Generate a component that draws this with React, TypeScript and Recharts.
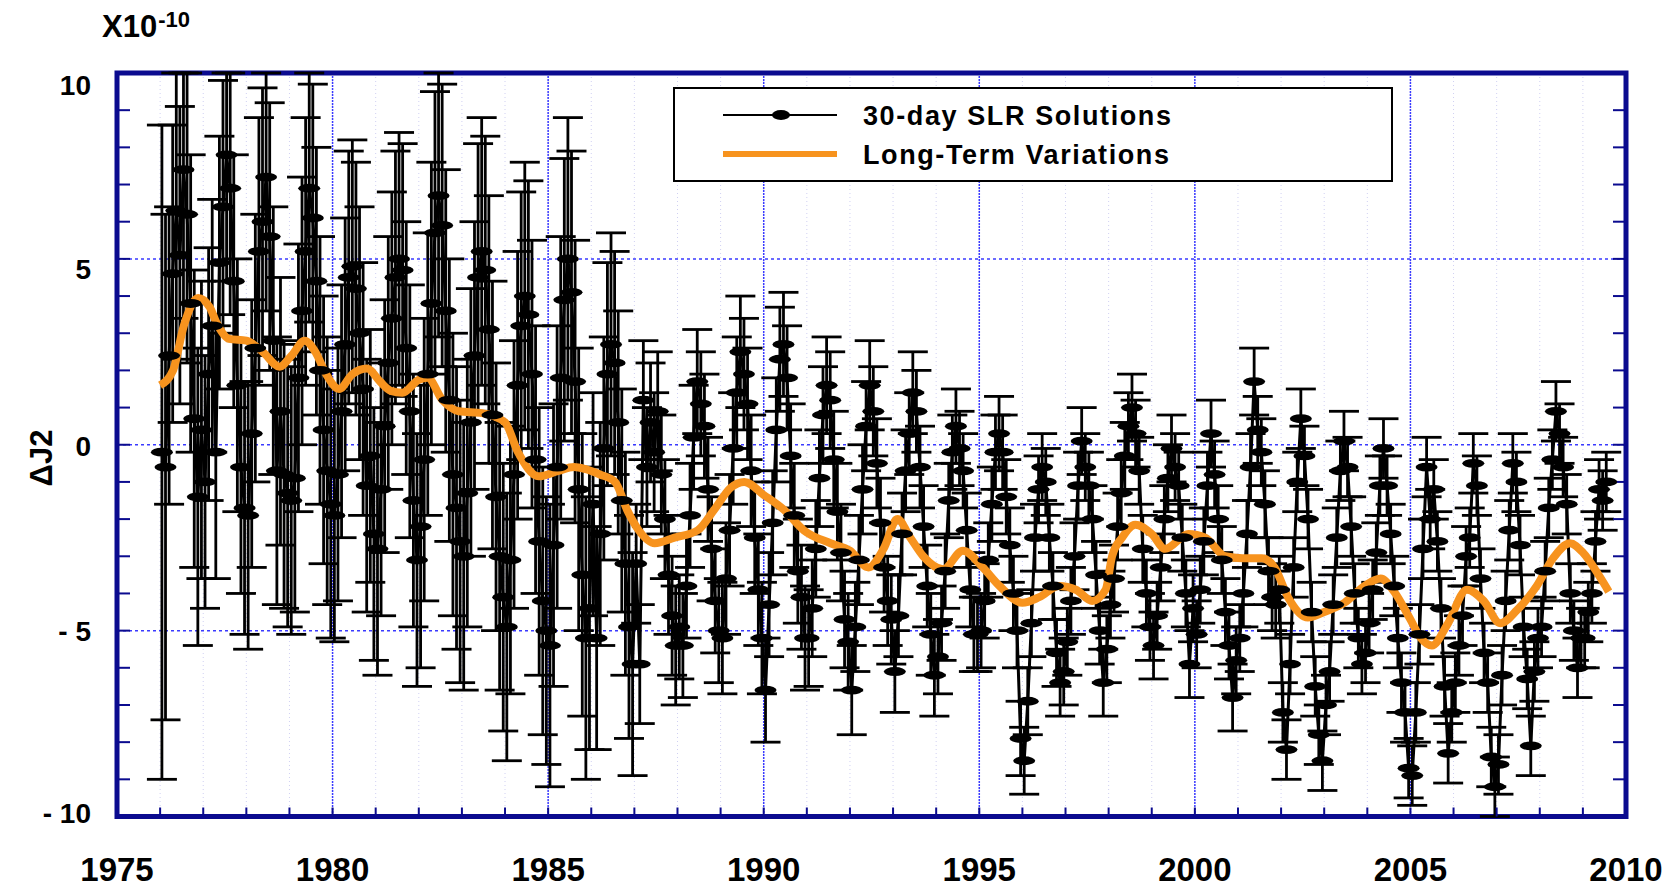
import React from 'react';
import { ComposedChart, Line, XAxis, YAxis, CartesianGrid, ErrorBar, ReferenceArea, Legend } from 'recharts';

const FONT = '"Liberation Sans", Arial, Helvetica, sans-serif';
const NAVY = '#0b0b8f';
const ORANGE = '#f7931e';

// 30-day SLR solutions, one value per month starting Jan 1976 (x1e-10)
const slr1976to1980 = [
  -0.2, -0.6, 2.4, 4.6, 6.3, 5.1, 7.4, 6.2, 3.8, 0.7, -1.4, 0.4,
  -1.0, 1.9, 3.2, -0.2, 4.9, 6.4, 7.8, 6.9, 4.4, 1.6, -0.6, -1.7,
  -1.9, 0.3, 2.6, 5.2, 6.0, 7.2, 5.6, 2.8, -0.7, 0.9, -0.8, -1.3,
  -1.5, -0.9, 1.8, 3.6, 5.2, 6.9, 6.1, 4.4, 2.0, 0.4, -0.7, -1.6,
  -1.9, -0.8, 0.9, 2.7, 4.5, 4.8, 4.2, 3.0, 1.5, -1.1, -0.3, -2.4,
];
const slr1981to1985 = [
  -2.8, -1.2, 0.5, 2.2, 3.4, 4.5, 5.0, 4.7, 2.6, 0.9, -1.5, -3.1,
  -2.2, -0.4, 1.9, 3.8, 5.7, 6.7, 5.9, 3.6, 1.2, -0.8, -1.7, -2.6,
  -3.0, -1.3, 0.6, 2.4, 4.5, 5.2, 4.7, 3.1, 0.8, -1.4, -3.0, -4.1,
  -4.9, -3.1, -0.8, 1.6, 3.2, 4.0, 3.5, 1.9, -0.4, -2.6, -4.2, -5.0,
  -5.4, -2.7, -0.6, 1.8, 3.9, 5.0, 4.1, 1.7, -1.2, -3.5, -5.2, -4.4,
];
const slr1986to1990 = [
  -1.6, -5.2, -2.4, -0.1, 1.9, 2.7, 2.2, 0.6, -1.5, -3.2, -4.9, -5.9,
  -3.2, -5.9, 1.2, -0.6, 0.6, -0.2, 0.9, -0.8, -2.0, -3.5, -4.6, -5.4,
  -4.9, -5.4, -3.8, -1.9, 0.2, 1.7, 1.1, 0.5, -1.2, -2.8, -4.2, -5.0,
  -5.2, -3.6, -2.3, -0.1, 1.4, 2.5, 1.9, 1.1, -0.7, -2.5, -3.9, -5.2,
  -6.6, -4.3, -2.1, 0.4, 2.3, 2.7, 1.8, -0.3, -1.9, -3.4, -4.1, -5.2,
];
const slr1991to1995 = [
  -5.2, -4.4, -2.8, -0.9, 0.8, 1.6, 1.2, -0.4, -1.8, -2.9, -4.7, -5.3,
  -6.6, -4.9, -3.1, -1.2, 0.5, 1.6, 0.9, -0.5, -2.1, -3.3, -4.2, -4.7,
  -6.1, -4.6, -2.4, -0.7, 0.3, 1.4, 0.9, -0.6, -2.2, -3.8, -5.1, -6.2,
  -5.7, -4.8, -3.4, -1.5, -0.2, 0.5, -0.1, -0.7, -2.3, -3.9, -5.1, -5.1,
  -5.0, -4.2, -3.1, -1.6, -0.2, 0.3, -0.2, -1.4, -2.7, -4.0, -5.0, -7.9,
];
const slr1996to2000 = [
  -8.5, -6.9, -4.8, -2.5, -1.2, -0.6, -1.0, -2.5, -3.8, -5.6, -6.4, -6.1,
  -5.3, -4.2, -3.0, -1.1, 0.1, -0.6, -1.1, -2.0, -3.5, -5.0, -6.4, -5.5,
  -4.3, -3.6, -2.2, -1.3, -0.3, 0.5, 1.0, 0.3, -0.7, -2.8, -4.0, -4.9,
  -5.4, -4.6, -3.3, -2.0, -0.9, -0.1, -0.6, -1.1, -2.5, -4.0, -5.9, -4.4,
  -5.1, -3.9, -2.6, -1.1, 0.3, -0.8, -2.0, -3.1, -4.5, -5.4, -6.8, -5.8,
];
const slr2001to2005 = [
  -5.2, -4.0, -2.4, -0.6, 1.7, 0.4, -0.2, -1.6, -3.4, -4.1, -4.3, -3.9,
  -7.2, -8.2, -5.9, -3.3, -1.0, 0.7, -0.3, -2.0, -4.5, -6.5, -7.8, -8.5,
  -7.0, -6.1, -4.3, -2.5, -0.7, 0.1, -0.6, -2.2, -4.0, -5.2, -5.9, -5.6,
  -4.8, -3.9, -2.9, -1.1, -0.1, -1.1, -2.4, -3.8, -5.2, -6.4, -7.2, -8.7,
  -8.9, -7.2, -5.1, -2.8, -0.6, -2.0, -1.2, -2.6, -4.4, -6.5, -8.3, -7.2,
];
const slr2006to2009 = [
  -6.4, -5.4, -4.6, -3.0, -2.5, -0.5, -1.1, -3.6, -5.6, -6.4, -8.4, -9.2,
  -8.6, -6.2, -4.2, -2.3, -0.5, -1.0, -2.7, -4.9, -6.3, -8.1, -6.1, -5.2,
  -4.9, -3.4, -1.7, -0.4, 0.9, 0.3, -0.6, -1.6, -4.0, -5.0, -6.0, -5.2,
  -5.2, -4.5, -4.0, -2.6, -1.2, -1.5, -1.0,
];

// error half-width per year 1976..2009, first months of 1976 are wider
const slrErrorByYear = [
  4.0, 3.4, 3.6, 3.6, 3.4, 3.4, 3.8, 3.6, 3.6, 3.8, 3.0, 1.6, 1.4, 1.5, 1.4, 1.3, 1.2,
  1.1, 1.0, 1.0, 0.9, 0.9, 0.9, 0.9, 0.9, 0.9, 0.8, 0.8, 0.8, 0.8, 0.8, 0.8, 0.8, 0.8,
];
const slrErrorStart = [8.8, 6.8];

// long-term variations
const trendYears = [
  1976.0, 1976.3, 1976.55, 1976.88, 1977.15, 1977.3, 1977.6, 1978.0, 1978.38, 1978.77,
  1979.05, 1979.35, 1979.6, 1979.85, 1980.15, 1980.46, 1980.8, 1981.1, 1981.35, 1981.62,
  1982.0, 1982.2, 1982.55, 1982.93, 1983.47, 1984.0, 1984.3, 1984.78, 1985.24, 1985.6,
  1985.85, 1986.2, 1986.55, 1986.85, 1987.1, 1987.47, 1987.93, 1988.47, 1988.85, 1989.24,
  1989.55, 1990.0, 1990.47, 1990.93, 1991.55, 1992.0, 1992.43, 1992.78, 1993.1, 1993.4,
  1993.7, 1994.16, 1994.62, 1995.08, 1995.47, 1996.0, 1996.39, 1996.85, 1997.24, 1997.62,
  1997.93, 1998.08, 1998.31, 1998.62, 1999.0, 1999.31, 1999.85, 2000.24, 2000.7, 2001.1,
  2001.55, 2001.85, 2002.16, 2002.62, 2003.0, 2003.47, 2003.93, 2004.31, 2004.62, 2005.0,
  2005.24, 2005.5, 2005.85, 2006.31, 2006.7, 2007.08, 2007.47, 2007.93, 2008.31, 2008.7,
  2009.0, 2009.39, 2009.6,
];
const trendValues = [
  1.6, 2.0, 3.2, 3.95, 3.7, 3.3, 2.85, 2.8, 2.5, 2.1,
  2.4, 2.8, 2.5, 1.9, 1.5, 1.9, 2.05, 1.7, 1.45, 1.4,
  1.75, 1.8, 1.2, 0.9, 0.85, 0.6, -0.2, -0.85, -0.7, -0.6,
  -0.65, -0.8, -1.0, -1.8, -2.3, -2.65, -2.5, -2.3, -1.75, -1.15,
  -1.0, -1.35, -1.75, -2.3, -2.65, -2.85, -3.3, -2.8, -2.0, -2.5,
  -3.0, -3.35, -2.85, -3.3, -3.8, -4.25, -4.1, -3.8, -3.9, -4.2,
  -3.9, -3.0, -2.5, -2.15, -2.4, -2.8, -2.4, -2.5, -3.0, -3.05,
  -3.05, -3.3, -4.1, -4.65, -4.5, -4.25, -3.8, -3.6, -3.95, -4.7,
  -5.2, -5.4, -4.85, -3.9, -4.2, -4.8, -4.45, -3.8, -3.05, -2.65,
  -2.9, -3.55, -3.95,
];

const yearTicks = Array.from({ length: 36 }, (_, i) => 1975 + i);
const valueTicks = Array.from({ length: 21 }, (_, i) => -10 + i);
const majorYears = [1980, 1985, 1990, 1995, 2000, 2005];
const majorValues = [-5, 0, 5];
const yLabels: Record<number, string> = { 10: '10', 5: '5', 0: '0', '-5': '- 5', '-10': '- 10' };

const Y_MIN = -10;
const Y_MAX = 10;

const slrValues = [
  ...slr1976to1980, ...slr1981to1985, ...slr1986to1990,
  ...slr1991to1995, ...slr1996to2000, ...slr2001to2005, ...slr2006to2009,
];
const slrData = slrValues.map((v, i) => {
  const e = i < slrErrorStart.length ? slrErrorStart[i] : slrErrorByYear[Math.floor(i / 12)];
  // error bars are cut at the frame like in the print
  return { t: 1976 + (i + 0.5) / 12, v, err: [Math.min(e, v - Y_MIN), Math.min(e, Y_MAX - v)] };
});
const trendData = trendYears.map((t, i) => ({ t, v: trendValues[i] }));

const XTick = (props: any) => {
  const { x, y, payload } = props;
  if (payload.value % 5 !== 0) return <g />;
  return (
    <text x={x} y={y} dy="0.36em" textAnchor="middle" fontFamily={FONT} fontWeight={700} fontSize={33} fill="#000">
      {payload.value}
    </text>
  );
};

// the printed labels sit a little off their ticks near the top
const yLabelShift: Record<number, number> = { 10: 12, 5: 10, 0: 1, '-5': 0, '-10': -4 };

const YTick = (props: any) => {
  const { x, y, payload } = props;
  const label = yLabels[payload.value];
  if (label === undefined) return <g />;
  return (
    <text x={x} y={y + yLabelShift[payload.value]} dy="0.36em" textAnchor="end" fontFamily={FONT} fontWeight={700} fontSize={28} fill="#000">
      {label}
    </text>
  );
};

const EllipseDot = (props: any) => {
  const { cx, cy, index } = props;
  if (cx == null || cy == null) return <g key={index} />;
  return <ellipse key={index} cx={cx} cy={cy} rx={11} ry={4.4} fill="#000" />;
};

const LegendBox = () => (
  <div style={{ width: 720, height: 95, boxSizing: 'border-box', border: '2px solid #000', background: '#fff' }}>
    <svg width={716} height={91} style={{ display: 'block' }}>
      <line x1={48} y1={26} x2={162} y2={26} stroke="#000" strokeWidth={2} />
      <ellipse cx={106} cy={26} rx={9} ry={5} fill="#000" />
      <line x1={48} y1={65} x2={162} y2={65} stroke={ORANGE} strokeWidth={6} />
      <text x={188} y={26} dy="0.36em" fontFamily={FONT} fontWeight={700} fontSize={27} letterSpacing={1.6} fill="#000">
        30-day SLR Solutions
      </text>
      <text x={188} y={65} dy="0.36em" fontFamily={FONT} fontWeight={700} fontSize={27} letterSpacing={1.6} fill="#000">
        Long-Term Variations
      </text>
    </svg>
  </div>
);

export default function App() {
  return (
    <div style={{ position: 'absolute', left: 0, top: 0, width: 1678, height: 893, background: '#fff' }}>
      <ComposedChart width={1678} height={893} margin={{ top: 72, right: 51, bottom: 16.5, left: 0 }}>
        <CartesianGrid horizontal={false} stroke="#d0d0f2" strokeDasharray="1 3" />
        <CartesianGrid horizontal={false} verticalValues={majorYears} stroke="#3a3aff" strokeWidth={1.5} strokeDasharray="2 1" />
        <CartesianGrid vertical={false} horizontalValues={majorValues} stroke="#3a3aff" strokeWidth={1.5} strokeDasharray="3 3" />
        <XAxis
          dataKey="t"
          type="number"
          domain={[1975, 2010]}
          ticks={yearTicks}
          interval={0}
          allowDataOverflow
          axisLine={false}
          tickLine={{ stroke: NAVY, strokeWidth: 2 }}
          tickSize={-9}
          tickMargin={62}
          height={60}
          tick={<XTick />}
        />
        <XAxis
          xAxisId="top"
          orientation="top"
          type="number"
          domain={[1975, 2010]}
          ticks={yearTicks}
          interval={0}
          allowDataOverflow
          axisLine={false}
          tickLine={{ stroke: NAVY, strokeWidth: 2 }}
          tickSize={-9}
          height={1}
          tick={() => <g />}
        />
        <YAxis
          type="number"
          domain={[Y_MIN, Y_MAX]}
          ticks={valueTicks}
          interval={0}
          allowDataOverflow
          axisLine={false}
          tickLine={{ stroke: NAVY, strokeWidth: 2 }}
          tickSize={-13}
          tickMargin={39}
          width={117}
          tick={<YTick />}
        />
        <YAxis
          yAxisId="right"
          orientation="right"
          type="number"
          domain={[Y_MIN, Y_MAX]}
          ticks={valueTicks}
          interval={0}
          allowDataOverflow
          axisLine={false}
          tickLine={{ stroke: NAVY, strokeWidth: 2 }}
          tickSize={-13}
          width={1}
          tick={() => <g />}
        />
        <Line
          data={slrData}
          dataKey="v"
          type="linear"
          stroke="#000"
          strokeWidth={3}
          dot={<EllipseDot />}
          activeDot={false}
          isAnimationActive={false}
          legendType="none"
        >
          <ErrorBar dataKey="err" direction="y" width={15} stroke="#000" strokeWidth={2.8} />
        </Line>
        <Line
          data={trendData}
          dataKey="v"
          type="monotone"
          stroke={ORANGE}
          strokeWidth={8}
          dot={false}
          activeDot={false}
          isAnimationActive={false}
          legendType="none"
        />
        <ReferenceArea x1={1975} x2={2010} y1={Y_MIN} y2={Y_MAX} fill="none" fillOpacity={0} stroke={NAVY} strokeWidth={5} />
        <Legend
          layout="horizontal"
          verticalAlign="middle"
          align="center"
          content={() => <LegendBox />}
          wrapperStyle={{ left: 673, top: 87, width: 720, height: 95 }}
        />
      </ComposedChart>
      <svg width={1678} height={893} style={{ position: 'absolute', left: 0, top: 0, pointerEvents: 'none' }}>
        <text x={102} y={37} fontFamily={FONT} fontWeight={700} fontSize={31} fill="#000">
          X10<tspan dx={1} dy={-10} fontSize={22}>-10</tspan>
        </text>
        <text
          transform="translate(41 458) rotate(-90)"
          textAnchor="middle"
          dy="0.36em"
          fontFamily={FONT}
          fontWeight={700}
          fontSize={31}
          fill="#000"
        >
          ΔJ2
        </text>
      </svg>
    </div>
  );
}
